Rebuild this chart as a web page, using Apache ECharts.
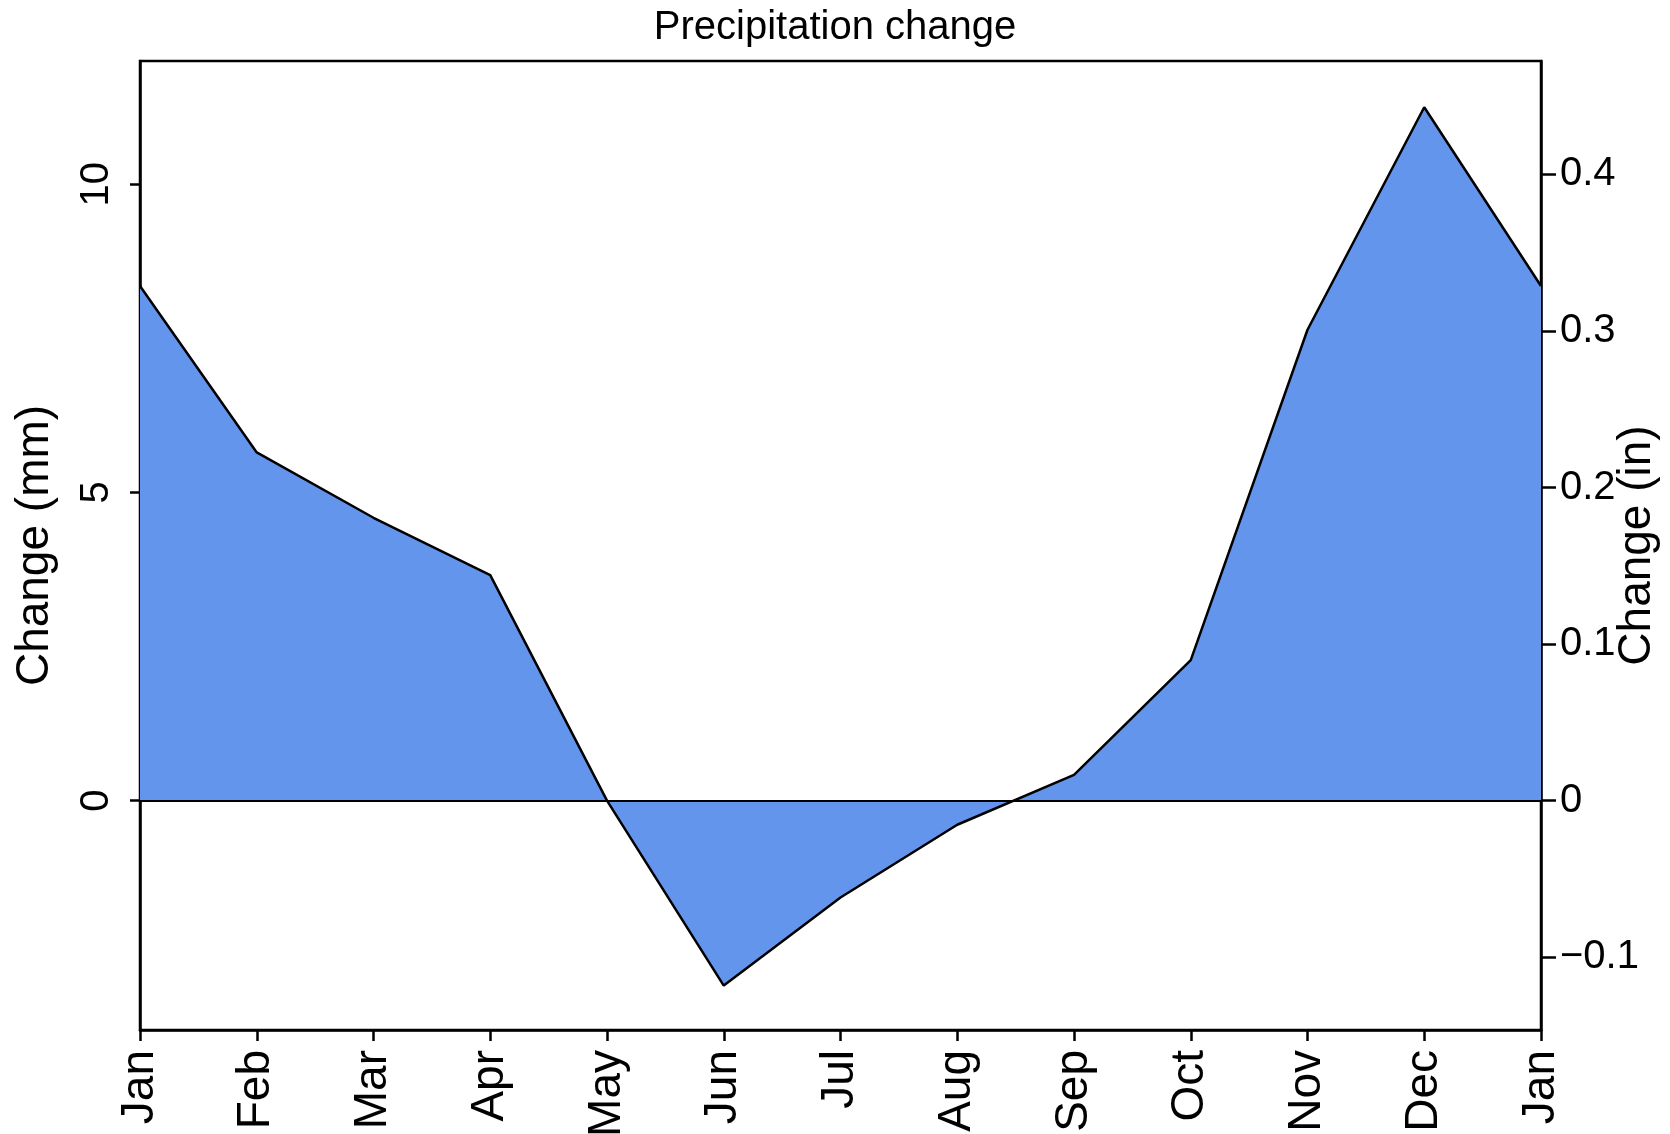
<!DOCTYPE html>
<html>
<head>
<meta charset="utf-8">
<script src="https://cdn.jsdelivr.net/npm/echarts@6/dist/echarts.min.js"></script>
<style>
  html, body { margin: 0; padding: 0; background: #fff; }
  #main { width: 1670px; height: 1134px; }
</style>
</head>
<body>
<div id="main"></div>
<script>
  // month labels (loop back to Jan)
  const months = ['Jan', 'Feb', 'Mar', 'Apr', 'May', 'Jun', 'Jul', 'Aug', 'Sep', 'Oct', 'Nov', 'Dec', 'Jan'];
  // precipitation change in mm
  const changeMm = [8.35, 5.65, 4.59, 3.66, 0.0, -3.0, -1.57, -0.39, 0.42, 2.28, 7.64, 11.25, 8.35];
  const mmTicks = [0, 5, 10];
  const inTicks = [-0.1, 0, 0.1, 0.2, 0.3, 0.4];
  const mmMin = -3.72;
  const mmMax = 12;
  const mmPerIn = 25.4;

  const chart = echarts.init(document.getElementById('main'));
  const font = 'Liberation Sans, Arial, sans-serif';

  chart.setOption({
    animation: false,
    title: {
      text: 'Precipitation change',
      left: 'center',
      top: 3,
      textStyle: { fontFamily: font, fontSize: 40, fontWeight: 'normal', color: '#000' }
    },
    grid: {
      left: 140, right: 129, top: 61, bottom: 104,
      outerBoundsMode: 'none',
      containLabel: false,
      show: true, borderColor: '#000', borderWidth: 2.5, backgroundColor: 'transparent'
    },
    xAxis: {
      type: 'category',
      data: months,
      boundaryGap: false,
      axisLine: { show: true, onZero: false, lineStyle: { color: '#000', width: 2.5 } },
      axisTick: { show: true, alignWithLabel: true, length: 11, lineStyle: { color: '#000', width: 2.5 } },
      axisLabel: {
        interval: 0, rotate: 90, margin: 20,
        fontFamily: font, fontSize: 46, color: '#000'
      },
      splitLine: { show: false }
    },
    yAxis: [
      {
        type: 'value',
        min: mmMin, max: mmMax,
        name: 'Change (mm)',
        nameLocation: 'middle',
        nameRotate: 90,
        nameGap: 82,
        nameMoveOverlap: false,
        nameTextStyle: { fontFamily: font, fontSize: 46, color: '#000' },
        axisLine: { show: true, onZero: false, lineStyle: { color: '#000', width: 2.5 } },
        axisTick: { show: true, customValues: mmTicks, length: 10, lineStyle: { color: '#000', width: 2.5 } },
        axisLabel: {
          customValues: mmTicks, rotate: 90, margin: 23,
          fontFamily: font, fontSize: 40, color: '#000'
        },
        splitLine: { show: false }
      },
      {
        type: 'value',
        position: 'right',
        min: mmMin / mmPerIn, max: mmMax / mmPerIn,
        name: 'Change (in)',
        nameLocation: 'middle',
        nameRotate: 90,
        nameGap: 73,
        nameMoveOverlap: false,
        nameTextStyle: { fontFamily: font, fontSize: 46, color: '#000' },
        axisLine: { show: true, onZero: false, lineStyle: { color: '#000', width: 2.5 } },
        axisTick: { show: true, customValues: inTicks, length: 15, lineStyle: { color: '#000', width: 2.5 } },
        axisLabel: {
          customValues: inTicks, margin: 19,
          fontFamily: font, fontSize: 40, color: '#000',
          formatter: v => (v < 0 ? '\u2212' + Math.abs(v) : String(v))
        },
        splitLine: { show: false }
      }
    ],
    series: [
      {
        type: 'line',
        data: changeMm,
        yAxisIndex: 0,
        symbol: 'none',
        lineStyle: { color: '#000', width: 2.5 },
        areaStyle: { color: '#6495ED', opacity: 1, origin: 0 },
        markLine: {
          silent: true,
          symbol: 'none',
          label: { show: false },
          lineStyle: { color: '#000', width: 2, type: 'solid' },
          data: [{ yAxis: 0 }]
        },
        z: 2
      }
    ]
  });
</script>
</body>
</html>
